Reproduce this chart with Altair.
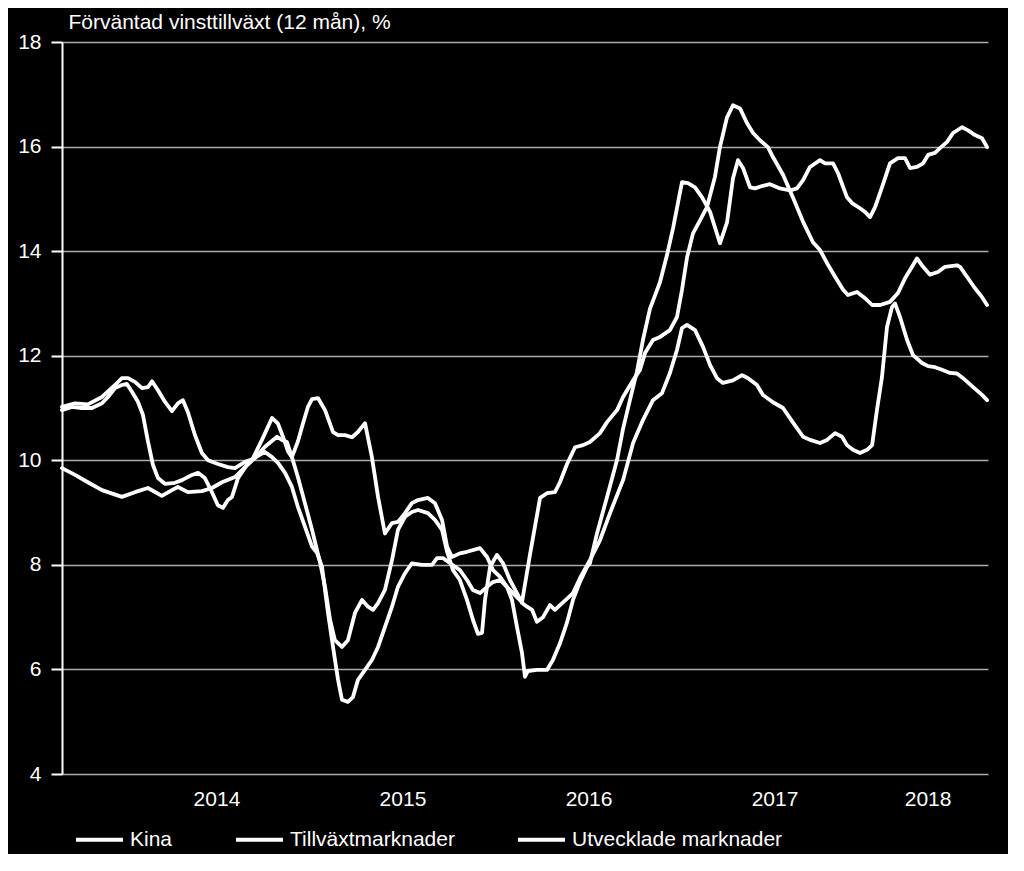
import altair as alt
import pandas as pd

# ---------------- data (decimal years, % expected earnings growth) ----------------
kina_t = [2013.667, 2013.720, 2013.774, 2013.828, 2013.882, 2013.914, 2013.952, 2013.989, 2014.016, 2014.043,
          2014.075, 2014.102, 2014.129, 2014.156, 2014.183, 2014.220, 2014.274, 2014.312, 2014.366, 2014.398,
          2014.435, 2014.473, 2014.505, 2014.532, 2014.559, 2014.581, 2014.613, 2014.661, 2014.688, 2014.742,
          2014.796, 2014.828, 2014.855, 2014.882, 2014.903, 2014.935, 2014.962, 2014.989, 2015.011, 2015.043,
          2015.081, 2015.124, 2015.151, 2015.188, 2015.226, 2015.258, 2015.296, 2015.333, 2015.366, 2015.403,
          2015.441, 2015.473, 2015.511, 2015.548, 2015.581, 2015.634, 2015.672, 2015.710, 2015.737, 2015.763,
          2015.806, 2015.844, 2015.914, 2015.952, 2015.984, 2016.022, 2016.059, 2016.091, 2016.113, 2016.140,
          2016.183, 2016.237, 2016.274, 2016.317, 2016.344, 2016.382, 2016.425, 2016.468, 2016.505, 2016.559,
          2016.597, 2016.651, 2016.683, 2016.737, 2016.774, 2016.801, 2016.844, 2016.882, 2016.935, 2016.973,
          2017.000, 2017.027, 2017.059, 2017.097, 2017.134, 2017.177, 2017.204, 2017.242, 2017.274, 2017.312,
          2017.349, 2017.382, 2017.419, 2017.462, 2017.489, 2017.543, 2017.597, 2017.651, 2017.704, 2017.742,
          2017.780, 2017.823, 2017.866, 2017.892, 2017.941, 2017.984, 2018.022, 2018.065, 2018.118, 2018.161,
          2018.199, 2018.226, 2018.263, 2018.296, 2018.333, 2018.376, 2018.414, 2018.478, 2018.495, 2018.532,
          2018.575, 2018.613, 2018.640]
kina_v = [10.96, 11.02, 11.00, 11.00, 11.09, 11.21, 11.38, 11.44, 11.46, 11.31,
          11.12, 10.87, 10.36, 9.91, 9.66, 9.55, 9.57, 9.62, 9.72, 9.76,
          9.66, 9.39, 9.14, 9.09, 9.24, 9.30, 9.66, 9.91, 10.00, 10.39,
          10.81, 10.70, 10.45, 10.17, 10.06, 10.36, 10.70, 11.02, 11.17, 11.19,
          10.96, 10.54, 10.48, 10.48, 10.44, 10.54, 10.71, 10.06, 9.30, 8.60,
          8.80, 8.82, 8.99, 9.18, 9.24, 9.28, 9.18, 8.86, 8.35, 8.15,
          8.22, 8.25, 8.32, 8.15, 7.90, 7.77, 7.58, 7.46, 7.38, 7.29,
          8.20, 9.28, 9.37, 9.39, 9.58, 9.93, 10.25, 10.29, 10.35, 10.52,
          10.73, 10.96, 11.21, 11.53, 11.73, 12.05, 12.30, 12.36, 12.49, 12.74,
          13.26, 13.88, 14.34, 14.59, 14.84, 15.42, 15.99, 16.56, 16.79, 16.73,
          16.45, 16.26, 16.12, 15.99, 15.80, 15.46, 15.02, 14.56, 14.17, 14.02,
          13.77, 13.51, 13.26, 13.16, 13.22, 13.10, 12.97, 12.97, 13.03, 13.20,
          13.48, 13.64, 13.86, 13.70, 13.55, 13.60, 13.70, 13.73, 13.70, 13.51,
          13.29, 13.12, 12.97]

tillv_t = [2013.667, 2013.737, 2013.806, 2013.882, 2013.952, 2013.989, 2014.022, 2014.059, 2014.097, 2014.129,
           2014.151, 2014.183, 2014.220, 2014.258, 2014.290, 2014.317, 2014.344, 2014.382, 2014.419, 2014.452,
           2014.505, 2014.559, 2014.597, 2014.651, 2014.704, 2014.758, 2014.823, 2014.849, 2014.876, 2014.903,
           2014.935, 2014.973, 2015.011, 2015.038, 2015.054, 2015.081, 2015.108, 2015.134, 2015.172, 2015.204,
           2015.242, 2015.280, 2015.312, 2015.339, 2015.366, 2015.403, 2015.441, 2015.473, 2015.511, 2015.548,
           2015.581, 2015.634, 2015.672, 2015.710, 2015.737, 2015.769, 2015.806, 2015.844, 2015.876, 2015.903,
           2015.925, 2015.941, 2015.968, 2016.005, 2016.038, 2016.075, 2016.113, 2016.140, 2016.167, 2016.194,
           2016.220, 2016.253, 2016.290, 2016.317, 2016.344, 2016.387, 2016.414, 2016.452, 2016.505, 2016.559,
           2016.613, 2016.683, 2016.737, 2016.790, 2016.844, 2016.892, 2016.935, 2016.973, 2017.000, 2017.027,
           2017.070, 2017.113, 2017.151, 2017.188, 2017.220, 2017.274, 2017.323, 2017.355, 2017.403, 2017.435,
           2017.489, 2017.543, 2017.597, 2017.651, 2017.688, 2017.742, 2017.780, 2017.823, 2017.860, 2017.887,
           2017.919, 2017.957, 2017.995, 2018.022, 2018.048, 2018.075, 2018.102, 2018.129, 2018.145, 2018.172,
           2018.210, 2018.242, 2018.290, 2018.323, 2018.360, 2018.398, 2018.441, 2018.478, 2018.511, 2018.565,
           2018.613, 2018.640]
tillv_v = [11.02, 11.09, 11.07, 11.21, 11.44, 11.57, 11.57, 11.50, 11.38, 11.40,
           11.51, 11.34, 11.12, 10.94, 11.09, 11.15, 10.92, 10.48, 10.14, 10.00,
           9.93, 9.87, 9.85, 9.97, 10.04, 10.26, 10.45, 10.39, 10.35, 10.06,
           9.68, 9.18, 8.67, 8.28, 8.05, 7.58, 6.95, 6.56, 6.43, 6.56,
           7.08, 7.33, 7.20, 7.14, 7.27, 7.52, 8.09, 8.67, 8.92, 9.01,
           9.05, 8.99, 8.86, 8.67, 8.25, 7.90, 7.71, 7.33, 6.95, 6.68,
           6.70, 7.33, 7.96, 8.19, 8.03, 7.71, 7.46, 7.27, 7.20, 7.14,
           6.91, 7.00, 7.23, 7.14, 7.23, 7.37, 7.46, 7.75, 8.09, 8.47,
           8.99, 9.62, 10.33, 10.77, 11.15, 11.28, 11.67, 12.11, 12.53, 12.59,
           12.49, 12.17, 11.82, 11.57, 11.48, 11.53, 11.63, 11.57, 11.44, 11.25,
           11.11, 11.00, 10.72, 10.45, 10.39, 10.33, 10.39, 10.52, 10.45, 10.29,
           10.20, 10.14, 10.20, 10.29, 10.96, 11.59, 12.55, 12.93, 13.00, 12.74,
           12.30, 12.01, 11.86, 11.80, 11.78, 11.73, 11.67, 11.66, 11.57, 11.40,
           11.25, 11.15]

utv_t = [2013.667, 2013.737, 2013.806, 2013.882, 2013.989, 2014.059, 2014.129, 2014.204, 2014.258, 2014.290,
         2014.344, 2014.419, 2014.473, 2014.527, 2014.597, 2014.651, 2014.704, 2014.758, 2014.796, 2014.828,
         2014.866, 2014.903, 2014.935, 2014.973, 2015.011, 2015.038, 2015.065, 2015.097, 2015.124, 2015.151,
         2015.172, 2015.204, 2015.231, 2015.258, 2015.296, 2015.333, 2015.366, 2015.403, 2015.441, 2015.473,
         2015.511, 2015.548, 2015.602, 2015.656, 2015.683, 2015.715, 2015.753, 2015.806, 2015.844, 2015.876,
         2015.914, 2015.952, 2015.984, 2016.022, 2016.059, 2016.086, 2016.113, 2016.140, 2016.156, 2016.172,
         2016.220, 2016.274, 2016.306, 2016.344, 2016.382, 2016.414, 2016.452, 2016.489, 2016.505, 2016.543,
         2016.597, 2016.651, 2016.683, 2016.720, 2016.758, 2016.790, 2016.828, 2016.844, 2016.882, 2016.919,
         2016.952, 2017.000, 2017.032, 2017.070, 2017.108, 2017.151, 2017.204, 2017.242, 2017.274, 2017.301,
         2017.328, 2017.366, 2017.392, 2017.435, 2017.473, 2017.527, 2017.581, 2017.618, 2017.651, 2017.688,
         2017.742, 2017.769, 2017.812, 2017.839, 2017.887, 2017.914, 2017.957, 2017.984, 2018.011, 2018.038,
         2018.075, 2018.118, 2018.161, 2018.199, 2018.226, 2018.263, 2018.296, 2018.323, 2018.360, 2018.387,
         2018.425, 2018.457, 2018.505, 2018.538, 2018.575, 2018.613, 2018.640]
utv_v = [9.85, 9.72, 9.58, 9.43, 9.30, 9.39, 9.47, 9.32, 9.43, 9.49,
         9.39, 9.41, 9.47, 9.58, 9.68, 9.87, 10.05, 10.16, 10.06, 9.95,
         9.76, 9.49, 9.11, 8.73, 8.35, 8.23, 7.96, 7.08, 6.43, 5.80,
         5.42, 5.38, 5.47, 5.80, 5.99, 6.18, 6.43, 6.81, 7.20, 7.58,
         7.84, 8.03, 8.00, 8.00, 8.13, 8.13, 8.03, 7.90, 7.71, 7.52,
         7.46, 7.58, 7.67, 7.71, 7.58, 7.33, 6.81, 6.31, 5.86, 5.97,
         5.99, 5.99, 6.18, 6.50, 6.90, 7.33, 7.68, 7.96, 8.03, 8.60,
         9.30, 10.01, 10.60, 11.15, 11.70, 12.30, 12.90, 13.05, 13.41, 13.92,
         14.44, 15.32, 15.30, 15.22, 15.03, 14.75, 14.15, 14.55, 15.39, 15.74,
         15.59, 15.22, 15.20, 15.25, 15.28, 15.20, 15.16, 15.20, 15.36, 15.61,
         15.74, 15.68, 15.68, 15.49, 15.03, 14.92, 14.82, 14.75, 14.65, 14.84,
         15.22, 15.68, 15.78, 15.78, 15.59, 15.61, 15.68, 15.84, 15.88, 15.97,
         16.09, 16.26, 16.37, 16.31, 16.22, 16.16, 15.99]

series_names = ["Kina", "Tillväxtmarknader", "Utvecklade marknader"]
year_ticks = [2014, 2015, 2016, 2017, 2018]
year_labels = ["2014", "2015", "2016", "2017", "2018"]
year_label_pos = [2014.5, 2015.5, 2016.5, 2017.5, 2018.323]
y_ticks = [4, 6, 8, 10, 12, 14, 16, 18]
title_text = "Förväntad vinsttillväxt (12 mån), %"

# ---------------- build table ----------------
rows = []
for name, ts, vs in zip(series_names, [kina_t, tillv_t, utv_t], [kina_v, tillv_v, utv_v]):
    for t, v in zip(ts, vs):
        rows.append({"serie": name, "t": t, "v": v})
df = pd.DataFrame(rows)
yr_df = pd.DataFrame({"t": year_label_pos, "label": year_labels})

FONT = "Liberation Sans"
x_scale = alt.Scale(domain=[2013.667, 2018.645], nice=False, zero=False)
y_scale = alt.Scale(domain=[4, 18], nice=False, zero=False)

lines = alt.Chart(df).mark_line(strokeWidth=3.8, strokeJoin="round", strokeCap="round").encode(
    x=alt.X("t:Q", scale=x_scale,
            axis=alt.Axis(values=year_ticks, labels=False, ticks=True, tickSize=10, tickWidth=2,
                          tickColor="white", domainColor="white", domainWidth=2, grid=False, title=None)),
    y=alt.Y("v:Q", scale=y_scale,
            axis=alt.Axis(values=y_ticks, title=title_text, titleAngle=0, titleAlign="left",
                          titleBaseline="alphabetic", titleX=6, titleY=-14, titleColor="white",
                          titleFontSize=21, titleFont=FONT, titleFontWeight="normal",
                          labelColor="white", labelFontSize=21, labelFont=FONT,
                          labelPadding=10, tickSize=11, tickWidth=2, tickColor="white",
                          domainColor="white", domainWidth=2, grid=True, gridColor="#ababab",
                          gridWidth=1.3)),
    color=alt.Color("serie:N",
                    scale=alt.Scale(domain=series_names, range=["white", "white", "white"]),
                    legend=alt.Legend(title=None, orient="none", legendX=12, legendY=772,
                                      direction="horizontal", symbolType="stroke", symbolSize=2209,
                                      symbolStrokeWidth=4, labelColor="white", labelFontSize=21,
                                      labelFont=FONT, labelOffset=5, labelLimit=400,
                                      columnPadding=55)),
    detail="serie:N",
)

years = alt.Chart(yr_df).mark_text(color="white", fontSize=21, font=FONT, baseline="middle").encode(
    x=alt.X("t:Q", scale=x_scale, axis=None),
    y=alt.value(758),
    text="label:N",
)

chart = alt.layer(lines, years).properties(
    width=926,
    height=732,
    background="black",
    padding={"left": 54, "top": 34, "right": 20, "bottom": 80},
    autosize=alt.AutoSizeParams(type="none"),
).configure_view(stroke=None)

chart.save("out.html", embed_options={"renderer": "svg", "actions": False})
